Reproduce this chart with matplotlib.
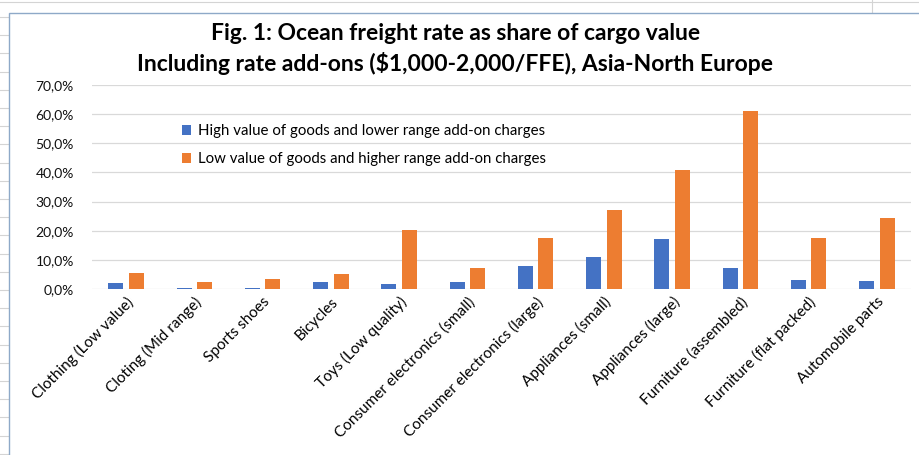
import numpy as np
import matplotlib.pyplot as plt
from matplotlib.lines import Line2D
from matplotlib.patches import Rectangle
from matplotlib.ticker import FuncFormatter

# ============================================================
# DATOS
# ============================================================
categorias = [
    "Clothing (Low value)", "Cloting (Mid range)", "Sports shoes", "Bicycles",
    "Toys (Low quality)", "Consumer electronics (small)", "Consumer electronics (large)",
    "Appliances (small)", "Appliances (large)", "Furniture (assembled)",
    "Furniture (flat packed)", "Automobile parts",
]
alto_valor = [0.020, 0.005, 0.005, 0.025, 0.017, 0.024, 0.080, 0.110, 0.173, 0.073, 0.032, 0.028]
bajo_valor = [0.056, 0.025, 0.036, 0.052, 0.204, 0.073, 0.175, 0.271, 0.407, 0.612, 0.175, 0.243]

serie_alta = "High value of goods and lower range add-on charges"
serie_baja = "Low value of goods and higher range add-on charges"
titulo = ("Fig. 1: Ocean freight rate as share of cargo value\n"
          "Including rate add-ons ($1,000-2,000/FFE), Asia-North Europe")

AZUL = "#4472C4"
NARANJA = "#ED7D31"

plt.rcParams["font.family"] = ["Lato", "DejaVu Sans"]

fig = plt.figure(figsize=(9.2, 4.55), dpi=100)

# fondo de hoja de cálculo (celdas)
for yy in np.arange(17, 455, 18.2):
    fig.add_artist(Line2D([0, 9 / 920], [1 - yy / 455] * 2, color="#D4D4D4", lw=0.8, zorder=-20))
fig.add_artist(Line2D([0, 1], [1 - 1.5 / 455] * 2, color="#D4D4D4", lw=0.8, zorder=-20))
fig.add_artist(Line2D([872 / 920] * 2, [1 - 13 / 455, 1], color="#D4D4D4", lw=0.8, zorder=-20))

# área del gráfico
fig.add_artist(Rectangle((9 / 920, -0.01), 1.0, 1 - 13 / 455 + 0.01,
                         transform=fig.transFigure, facecolor="white",
                         edgecolor="#8EA9C8", lw=1.0, zorder=-10))

ax = fig.add_axes([92 / 920, 1 - 289 / 455, (911 - 92) / 920, (289 - 85) / 455])
ax.set_facecolor("none")

x = np.arange(len(categorias))
ancho = 0.22
ax.bar(x - 0.15, alto_valor, ancho, color=AZUL, label=serie_alta, zorder=3)
ax.bar(x + 0.15, bajo_valor, ancho, color=NARANJA, label=serie_baja, zorder=3)

ax.set_xlim(-0.5, len(categorias) - 0.5)
ax.set_ylim(0, 0.7)
ax.set_yticks(np.arange(0, 0.71, 0.1))
ax.yaxis.set_major_formatter(FuncFormatter(lambda v, p: f"{v * 100:.1f}%".replace(".", ",")))
ax.grid(axis="y", color="#D9D9D9", lw=0.9, zorder=0)
for s in ax.spines.values():
    s.set_visible(False)
ax.tick_params(length=0)
ax.tick_params(axis="y", labelsize=10, pad=13, labelcolor="#111111")

ax.set_xticks(x)
ax.set_xticklabels(categorias, rotation=45, ha="right", rotation_mode="anchor",
                   fontsize=11, color="#000000")
ax.tick_params(axis="x", pad=4)

ax.legend(loc="upper left", bbox_to_anchor=(0.093, 0.875), frameon=False,
          fontsize=10.8, handlelength=0.65, handleheight=0.65, handletextpad=0.45,
          labelspacing=0.95)

fig.text(0.495, 1 - 49 / 455, titulo, ha="center", va="center", fontsize=16.5,
         fontweight="bold", linespacing=1.45)

fig.savefig("out.png", dpi=100)
